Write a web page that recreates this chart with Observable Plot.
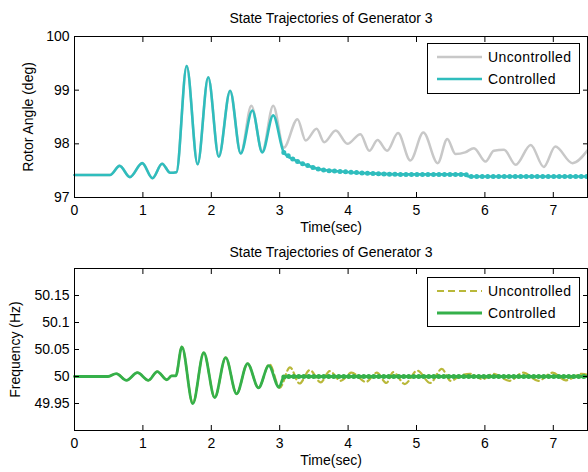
<!DOCTYPE html>
<html>
<head>
<meta charset="utf-8">
<script src="https://cdn.jsdelivr.net/npm/d3@7"></script>
<script src="https://cdn.jsdelivr.net/npm/@observablehq/plot@0.6"></script>
<style>
  html, body { margin: 0; padding: 0; background: #fff; }
  #wrap { position: relative; width: 588px; height: 472px; font-family: "Liberation Sans", Arial, sans-serif; }
  #wrap svg { display: block; }
  #wrap svg.legend { position: absolute; left: 0; top: 0; pointer-events: none; }
</style>
</head>
<body>
<div id="wrap"></div>
<script>
// ---------------- data ----------------
const xTicks = [0, 1, 2, 3, 4, 5, 6, 7];
const angleTicks = [97, 98, 99, 100];
const angleTickLabels = ["97", "98", "99", "100"];
const freqTicks = [49.95, 50, 50.05, 50.1, 50.15];
const freqTickLabels = ["49.95", "50", "50.05", "50.1", "50.15"];
const seriesNames = ["Uncontrolled", "Controlled"];

// Rotor angle (deg) - uncontrolled
const angleTimeUnc = [0, 0.52, 0.66, 0.81, 0.99, 1.14, 1.28, 1.40, 1.49, 1.64, 1.80, 1.955, 2.11, 2.275, 2.43,
  2.585, 2.745, 2.905, 3.06, 3.26, 3.38, 3.54, 3.65, 3.82, 3.99, 4.18, 4.31, 4.43, 4.57, 4.73, 4.91,
  5.10, 5.31, 5.45, 5.57, 5.71, 5.84, 6.01, 6.13, 6.28, 6.45, 6.67, 6.86, 7.03, 7.28, 7.5];
const angleUnc = [97.42, 97.42, 97.59, 97.38, 97.64, 97.36, 97.63, 97.46, 97.47, 99.45, 97.62, 99.24, 97.76, 98.99, 97.82,
  98.71, 97.86, 98.71, 97.93, 98.46, 98.06, 98.28, 98.03, 98.25, 98.00, 98.18, 97.87, 98.07, 97.87, 98.20, 97.69,
  98.21, 97.64, 98.09, 97.81, 97.84, 97.92, 97.67, 97.87, 97.89, 97.61, 97.98, 97.57, 97.95, 97.64, 97.88];

// Rotor angle (deg) - controlled
const angleTimeCon = [0, 0.52, 0.66, 0.81, 0.99, 1.14, 1.28, 1.40, 1.49, 1.64, 1.80, 1.955, 2.11, 2.275, 2.43,
  2.60, 2.745, 2.905, 3.06, 3.23, 3.40, 3.60, 3.84, 4.33, 4.82, 5.18, 5.72, 5.76, 6.5, 7.5];
const angleCon = [97.42, 97.42, 97.59, 97.38, 97.64, 97.36, 97.63, 97.46, 97.47, 99.45, 97.62, 99.24, 97.76, 98.99, 97.82,
  98.62, 97.84, 98.53, 97.84, 97.69, 97.60, 97.52, 97.49, 97.45, 97.43, 97.43, 97.43, 97.39, 97.39, 97.39];

// Frequency (Hz) - uncontrolled
const freqTimeUnc = [0, 0.49, 0.61, 0.76, 0.92, 1.08, 1.21, 1.35, 1.42, 1.48, 1.57, 1.73, 1.89, 2.05, 2.21, 2.37, 2.53, 2.69,
  2.85, 3.00, 3.15, 3.29, 3.44, 3.60, 3.73, 3.89, 4.05, 4.26, 4.42, 4.56, 4.66, 4.83, 5.01, 5.20, 5.37, 5.50,
  5.65, 5.78, 5.97, 6.12, 6.36, 6.56, 6.78, 6.99, 7.18, 7.42, 7.5];
const freqUnc = [50.0, 50.0, 50.0055, 49.993, 50.007, 49.993, 50.009, 49.994, 50.001, 50.001, 50.055, 49.950, 50.044, 49.961, 50.035, 49.968, 50.024, 49.979,
  50.023, 49.979, 50.017, 49.987, 50.012, 49.989, 50.010, 49.992, 50.007, 49.990, 50.007, 49.988, 50.008, 49.986, 50.011, 49.988, 50.014, 49.992,
  50.002, 50.005, 49.995, 50.005, 49.992, 50.007, 49.992, 50.007, 49.993, 50.005, 50.003];

// Frequency (Hz) - controlled
const freqTimeCon = [0, 0.49, 0.61, 0.76, 0.92, 1.08, 1.21, 1.35, 1.42, 1.48, 1.57, 1.73, 1.89, 2.05, 2.21, 2.37, 2.53, 2.69,
  2.84, 2.99, 3.06, 3.12, 5.0, 7.5];
const freqCon = [50.0, 50.0, 50.0055, 49.993, 50.007, 49.993, 50.009, 49.994, 50.001, 50.001, 50.055, 49.950, 50.044, 49.961, 50.035, 49.968, 50.024, 49.979,
  50.020, 49.980, 49.999, 50.0, 50.0, 50.0];

// ---------------- styles ----------------
const FONT = "Liberation Sans, Arial, Helvetica, sans-serif";
const C = { gray: "#c8c8c8", teal: "#2fbdbd", olive: "#b9b83a", green: "#35b04a" };

function axesMarks(yTicks, yLabels, title, ylabel, ylabelDx, titleDy) {
  const fmtY = d => yLabels[yTicks.indexOf(d)];
  return [
    Plot.frame({stroke: "#000", strokeWidth: 1}),
    Plot.axisX({anchor: "bottom", ticks: xTicks, tickSize: 5, dy: -5, tickFormat: () => "", label: null, stroke: "#000"}),
    Plot.axisX({anchor: "top", ticks: xTicks, tickSize: 5, dy: 5, tickFormat: () => "", label: null, stroke: "#000"}),
    Plot.axisY({anchor: "left", ticks: yTicks, tickSize: 5, dx: 5, tickFormat: () => "", label: null, stroke: "#000"}),
    Plot.axisY({anchor: "right", ticks: yTicks, tickSize: 5, dx: -5, tickFormat: () => "", label: null, stroke: "#000"}),
    Plot.axisX({anchor: "bottom", ticks: xTicks, tickSize: 0, tickPadding: 8, tickFormat: d => String(d), label: null, fill: "#000"}),
    Plot.axisY({anchor: "left", ticks: yTicks, tickSize: 0, tickPadding: 5, tickFormat: fmtY, label: null, fill: "#000"}),
    Plot.text([title], {text: d => d, frameAnchor: "top", dy: titleDy, fontSize: 14, fill: "#000", lineAnchor: "middle", textAnchor: "middle", letterSpacing: "0.4px"}),
    Plot.text(["Time(sec)"], {text: d => d, frameAnchor: "bottom", dy: 30, fontSize: 14, fill: "#000", lineAnchor: "middle", textAnchor: "middle", letterSpacing: "0.5px"}),
    Plot.text([ylabel], {text: d => d, frameAnchor: "left", dx: ylabelDx, rotate: -90, fontSize: 14, fill: "#000", lineAnchor: "middle", textAnchor: "middle"})
  ];
}

function tailIdx(t, from) { return d3.range(t.length).filter(i => t[i] >= from); }

const common = {
  width: 588, height: 236, marginLeft: 74, marginRight: 1,
  style: {fontFamily: FONT, fontSize: "14px", color: "#000", background: "white", overflow: "visible"},
  x: {domain: [0, 7.5]}
};

const idxA = tailIdx(angleTimeCon, 3.0);
const chartAngle = Plot.plot({
  ...common,
  marginTop: 36, marginBottom: 39,
  y: {domain: [97, 100]},
  marks: [
    Plot.line(angleUnc, {x: angleTimeUnc, y: angleUnc, stroke: C.gray, strokeWidth: 2.5, curve: "monotone-x"}),
    Plot.line(angleCon, {x: angleTimeCon, y: angleCon, stroke: C.teal, strokeWidth: 2.6, curve: "monotone-x"}),
    Plot.line(idxA, {x: i => angleTimeCon[i], y: i => angleCon[i], stroke: C.teal, strokeWidth: 5, strokeDasharray: "0 5.5", strokeLinecap: "round", curve: "monotone-x"}),
    ...axesMarks(angleTicks, angleTickLabels, "State Trajectories of Generator 3", "Rotor Angle (deg)", -46, -18)
  ]
});

const idxF = tailIdx(freqTimeCon, 3.06);
const chartFreq = Plot.plot({
  ...common,
  marginTop: 32, marginBottom: 42,
  y: {domain: [49.9, 50.2]},
  marks: [
    Plot.line(freqUnc, {x: freqTimeUnc, y: freqUnc, stroke: C.olive, strokeWidth: 2.2, strokeDasharray: "7 4", curve: "monotone-x"}),
    Plot.line(freqCon, {x: freqTimeCon, y: freqCon, stroke: C.green, strokeWidth: 2.8, curve: "monotone-x"}),
    Plot.line(idxF, {x: i => freqTimeCon[i], y: i => freqCon[i], stroke: C.green, strokeWidth: 5, strokeDasharray: "0 5", strokeLinecap: "round", curve: "monotone-x"}),
    ...axesMarks(freqTicks, freqTickLabels, "State Trajectories of Generator 3", "Frequency (Hz)", -59, -16)
  ]
});

const wrap = document.getElementById("wrap");
wrap.appendChild(chartAngle);
wrap.appendChild(chartFreq);

const leg = d3.select(wrap).append("svg").attr("class", "legend")
  .attr("width", 588).attr("height", 472)
  .style("font-family", FONT).style("font-size", "14px");

function legend(y0, h, items) {
  const g = leg.append("g");
  g.append("rect").attr("x", 427.5).attr("y", y0 + 0.5).attr("width", 152).attr("height", h)
    .attr("fill", "white").attr("stroke", "#000").attr("stroke-width", 1);
  items.forEach((it, k) => {
    const ly = y0 + 14 + k * 22;
    g.append("line").attr("x1", 437).attr("x2", 482).attr("y1", ly).attr("y2", ly)
      .attr("stroke", it.color).attr("stroke-width", it.width)
      .attr("stroke-dasharray", it.dash || null);
    g.append("text").attr("x", 488).attr("y", ly + 5).attr("fill", "#000")
      .style("letter-spacing", "0.4px").text(it.name);
  });
}
legend(43, 50, [
  {name: seriesNames[0], color: C.gray, width: 2.5},
  {name: seriesNames[1], color: C.teal, width: 2.6}
]);
legend(277, 49, [
  {name: seriesNames[0], color: C.olive, width: 2.2, dash: "7 4"},
  {name: seriesNames[1], color: C.green, width: 2.8}
]);
</script>
</body>
</html>
